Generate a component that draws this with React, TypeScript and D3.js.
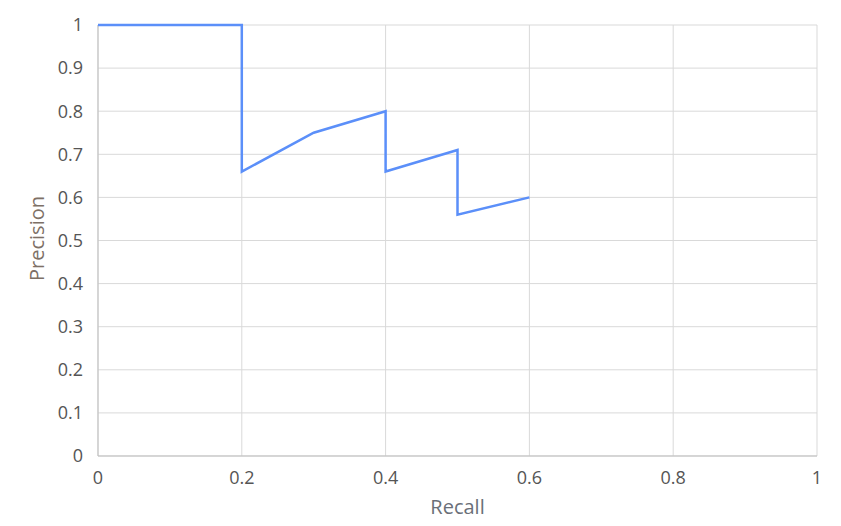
import React from "react";
import * as d3 from "d3";

const recall = [0, 0.2, 0.2, 0.3, 0.4, 0.4, 0.5, 0.5, 0.6];
const precision = [1, 1, 0.66, 0.75, 0.8, 0.66, 0.71, 0.56, 0.6];
const xTicks = [0, 0.2, 0.4, 0.6, 0.8, 1];
const yTicks = [0, 0.1, 0.2, 0.3, 0.4, 0.5, 0.6, 0.7, 0.8, 0.9, 1];

const W = 841, H = 526;
const M = { left: 98, right: 24, top: 25, bottom: 70 };

export default function App() {
  const x = d3.scaleLinear().domain([0, 1]).range([M.left, W - M.right]);
  const y = d3.scaleLinear().domain([0, 1]).range([H - M.bottom, M.top]);
  const pts = recall.map((r, i) => [r, precision[i]] as [number, number]);
  const line = d3.line<[number, number]>().x(d => x(d[0])).y(d => y(d[1]));
  const font = "'Open Sans', 'Noto Sans', sans-serif";
  return (
    <svg width={W} height={H} style={{ position: "absolute", left: 0, top: 0 }}>
      <rect width={W} height={H} fill="#fff" />
      {yTicks.map(t => (
        <line key={"gy" + t} x1={x(0)} x2={x(1)} y1={y(t)} y2={y(t)} stroke="#d9d9d9" strokeWidth={1} />
      ))}
      {xTicks.map(t => (
        <line key={"gx" + t} x1={x(t)} x2={x(t)} y1={y(0)} y2={y(1)} stroke="#d9d9d9" strokeWidth={1} />
      ))}
      <line x1={x(0)} x2={x(1)} y1={y(0)} y2={y(0)} stroke="#bfbfbf" strokeWidth={1} />
      <line x1={x(0)} x2={x(0)} y1={y(0)} y2={y(1)} stroke="#bfbfbf" strokeWidth={1} />
      {yTicks.map(t => (
        <text key={"ly" + t} x={x(0) - 15} y={y(t)} dy="0.35em" textAnchor="end" fontFamily={font} fontSize={18} fill="#555">
          {d3.format("~g")(t)}
        </text>
      ))}
      {xTicks.map(t => (
        <text key={"lx" + t} x={x(t)} y={y(0) + 22} dy="0.35em" textAnchor="middle" fontFamily={font} fontSize={18} fill="#555">
          {d3.format("~g")(t)}
        </text>
      ))}
      <text x={(x(0) + x(1)) / 2} y={507} dy="0.35em" textAnchor="middle" fontFamily={font} fontSize={20} fill="#6a6f78">
        Recall
      </text>
      <text transform={`translate(37,${(y(0) + y(1)) / 2 - 2}) rotate(-90)`} dy="0.35em" textAnchor="middle" fontFamily={font} fontSize={20} fill="#7d7066">
        Precision
      </text>
      <path d={line(pts) || ""} fill="none" stroke="#5b8ff9" strokeWidth={2.5} strokeLinejoin="miter" />
    </svg>
  );
}
